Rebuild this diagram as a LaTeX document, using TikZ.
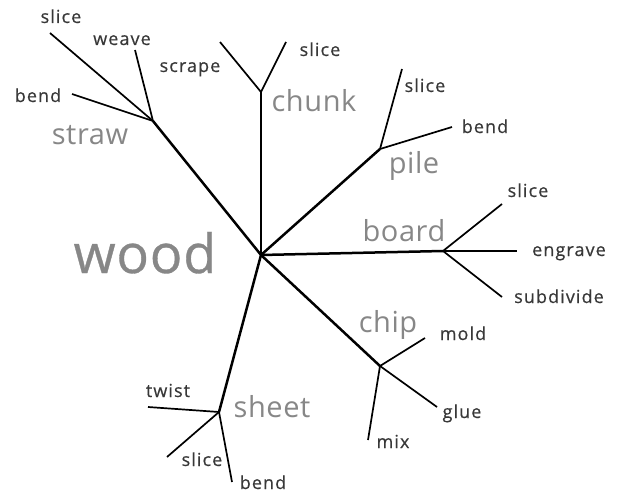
\documentclass[tikz,border=0pt]{standalone}
\usepackage{fontspec}
\setmainfont{Open Sans}
\newfontfamily\smallfam[LetterSpace=6,FakeBold=0.5]{Open Sans}
\newfontfamily\midfam[LetterSpace=2]{Open Sans}
\newfontfamily\rootfam[LetterSpace=1.5,FakeBold=0.6]{Open Sans}
\definecolor{smallgray}{HTML}{383838}
\definecolor{midgray}{HTML}{878787}
\tikzset{
  mainbranch/.style={line width=2.5pt, black},
  subbranch/.style={line width=1.7pt, black},
  leaflabel/.style={anchor=base, inner sep=0pt, text=smallgray, font=\smallfam\fontsize{18}{20}\selectfont},
  catlabel/.style={anchor=base, inner sep=0pt, text=midgray, font=\midfam\fontsize{29}{32}\selectfont},
  rootlabel/.style={anchor=base, inner sep=0pt, text=midgray, font=\rootfam\fontsize{54}{60}\selectfont},
}
\begin{document}
\begin{tikzpicture}[x=1pt,y=-1pt]
\useasboundingbox (0,0) rectangle (624,495);
% hub and junctions
\coordinate (wood) at (261,255);
\coordinate (straw) at (153,121);
\coordinate (chunk) at (261,92);
\coordinate (pile) at (380,149);
\coordinate (board) at (443,251);
\coordinate (chip) at (380,366);
\coordinate (sheet) at (219,412);
% leaf ends
\coordinate (strawslice) at (50,33);
\coordinate (strawweave) at (135,50);
\coordinate (strawbend) at (72,94);
\coordinate (chunkscrape) at (220,42);
\coordinate (chunkslice) at (286,42);
\coordinate (pileslice) at (402,69);
\coordinate (pilebend) at (452,127);
\coordinate (boardslice) at (502,204);
\coordinate (boardengrave) at (517,251);
\coordinate (boardsubdivide) at (502,297);
\coordinate (chipmold) at (425,338);
\coordinate (chipglue) at (437,407);
\coordinate (chipmix) at (368,440);
\coordinate (sheettwist) at (148,407);
\coordinate (sheetslice) at (167,457);
\coordinate (sheetbend) at (232,482);
% main branches
\foreach \c in {straw,chunk,pile,board,chip,sheet}
  \draw[mainbranch] (wood) -- (\c);
% sub branches
\foreach \p/\l in {straw/strawslice,straw/strawweave,straw/strawbend,
                   chunk/chunkscrape,chunk/chunkslice,
                   pile/pileslice,pile/pilebend,
                   board/boardslice,board/boardengrave,board/boardsubdivide,
                   chip/chipmold,chip/chipglue,chip/chipmix,
                   sheet/sheettwist,sheet/sheetslice,sheet/sheetbend}
  \draw[subbranch] (\p) -- (\l);
% labels
\node[rootlabel] (woodlbl) at (145,273) {wood};
\node[catlabel] (strawlbl) at (90,144) {straw};
\node[catlabel] (chunklbl) at (314,111) {chunk};
\node[catlabel] (pilelbl) at (414,173) {pile};
\node[catlabel] (boardlbl) at (404,241) {board};
\node[catlabel] (chiplbl) at (388,332) {chip};
\node[catlabel] (sheetlbl) at (272,417) {sheet};
\node[leaflabel] (l1) at (61,23) {slice};
\node[leaflabel] (l2) at (122,45) {weave};
\node[leaflabel] (l3) at (38,102) {bend};
\node[leaflabel] (l4) at (190,72) {scrape};
\node[leaflabel] (l5) at (320,56) {slice};
\node[leaflabel] (l6) at (425,92) {slice};
\node[leaflabel] (l7) at (485,133) {bend};
\node[leaflabel] (l8) at (528,197) {slice};
\node[leaflabel] (l9) at (569,256) {engrave};
\node[leaflabel] (l10) at (559,303) {subdivide};
\node[leaflabel] (l11) at (463,340) {mold};
\node[leaflabel] (l12) at (462,418) {glue};
\node[leaflabel] (l13) at (393,448) {mix};
\node[leaflabel] (l14) at (168,397) {twist};
\node[leaflabel] (l15) at (202,466) {slice};
\node[leaflabel] (l16) at (263,489) {bend};
\end{tikzpicture}
\end{document}
